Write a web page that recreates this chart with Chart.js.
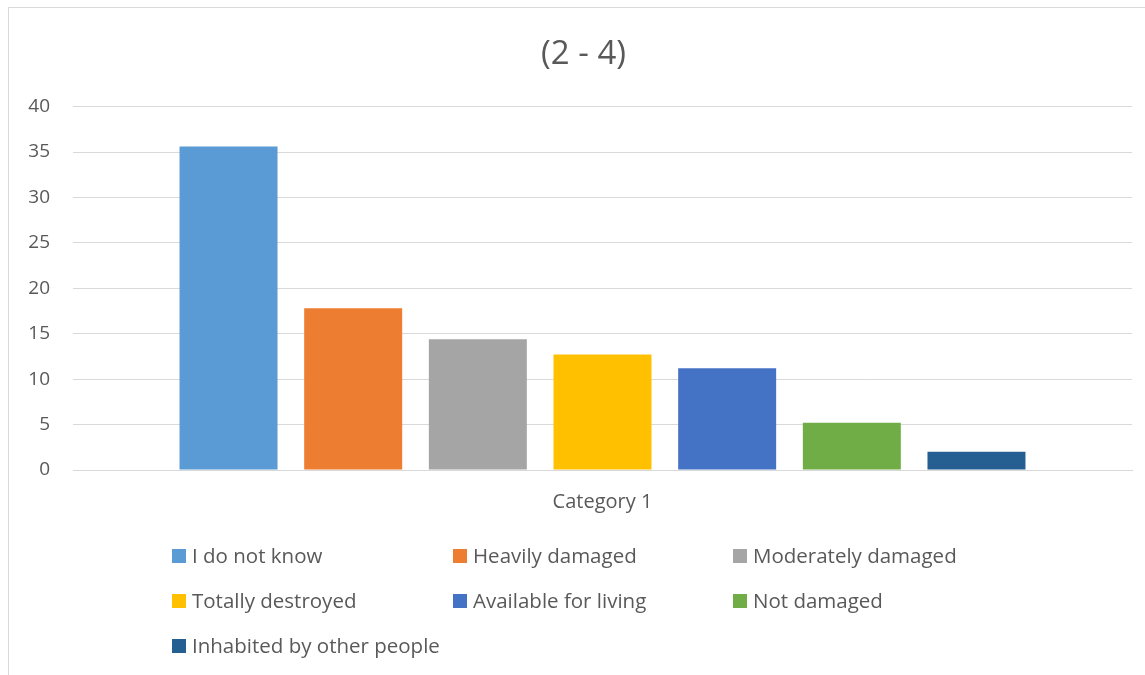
<!DOCTYPE html>
<html>
<head>
<meta charset="utf-8">
<script src="https://cdn.jsdelivr.net/npm/chart.js@4"></script>
<style>
    html, body { margin: 0; padding: 0; background: #fff; overflow: hidden; }
    #frame {
        position: absolute; left: 8px; top: 7px;
        border-left: 1px solid #d9d9d9; border-top: 1px solid #d9d9d9;
        width: 1149px; height: 667px;
    }
</style>
</head>
<body>
<div id="frame"><canvas id="dataChart" width="1149" height="667"></canvas></div>
<script>
const categories = ['Category 1']
const seriesNames = ['I do not know', 'Heavily damaged', 'Moderately damaged', 'Totally destroyed', 'Available for living', 'Not damaged', 'Inhabited by other people']
const seriesValues = [35.6, 17.8, 14.4, 12.7, 11.2, 5.2, 2.0]
const seriesColors = ['#5B9BD5', '#ED7D31', '#A5A5A5', '#FFC000', '#4472C4', '#70AD47', '#255E91']
const yTicks = [0, 5, 10, 15, 20, 25, 30, 35, 40]

const textColor = '#595959';
const fontFamily = "'Open Sans', 'Noto Sans', sans-serif";

const ctx = document.getElementById('dataChart');

// legend drawn in a fixed 3-column grid, like the Excel one
var gridLegend = {
    id: 'gridLegend',
    afterDraw: function(chart) {
        var c = chart.ctx;
        var colX = [163, 444, 724];
        var rowY = [548, 593, 638];
        c.save();
        c.font = '20.5px ' + fontFamily;
        c.textBaseline = 'middle';
        c.textAlign = 'left';
        chart.data.datasets.forEach(function(ds, i) {
            var x = colX[i % 3];
            var y = rowY[Math.floor(i / 3)];
            c.fillStyle = ds.backgroundColor;
            c.fillRect(x, y - 7, 14, 14);
            c.fillStyle = textColor;
            c.fillText(ds.label, x + 20, y + 1);
        });
        c.restore();
    }
};

var chartData = {
    labels: categories,
    datasets: seriesNames.map(function(name, i) {
        return {
            label: name,
            data: [seriesValues[i]],
            backgroundColor: seriesColors[i],
            borderWidth: 0,
            categoryPercentage: 0.824,
            barPercentage: 0.786
        };
    })
};

var chartOptions = {
    responsive: false,
    animation: false,
    layout: {
        padding: { left: 0, right: 0, top: 0, bottom: 150 }
    },
    scales: {
        x: {
            grid: { display: false, drawTicks: false },
            border: { display: true, color: '#d9d9d9', width: 1 },
            ticks: { color: textColor, font: { family: fontFamily, size: 20 }, padding: 20 },
            afterFit: function(scale) { scale.height = 55; }
        },
        y: {
            min: 0,
            max: 40,
            afterBuildTicks: function(scale) {
                scale.ticks = yTicks.map(function(v) { return { value: v }; });
            },
            grid: { color: '#d9d9d9', lineWidth: 1, drawTicks: false },
            border: { display: false },
            ticks: { color: textColor, font: { family: fontFamily, size: 19 }, padding: 23 },
            afterFit: function(scale) { scale.width = 64; }
        },
        // empty right axis, only keeps the plot off the right edge
        yRight: {
            position: 'right',
            min: 0,
            max: 40,
            grid: { display: false, drawTicks: false },
            border: { display: false },
            ticks: { display: false },
            afterFit: function(scale) { scale.width = 26; }
        }
    },
    plugins: {
        legend: { display: false },
        tooltip: { enabled: false },
        title: {
            display: true,
            text: '(2 - 4)',
            color: textColor,
            font: { family: fontFamily, size: 33, weight: 'normal' },
            padding: { top: 27, bottom: 32 }
        }
    }
};

var myChart = new Chart(ctx, {
    type: 'bar',
    data: chartData,
    options: chartOptions,
    plugins: [gridLegend]
});
</script>
</body>
</html>
